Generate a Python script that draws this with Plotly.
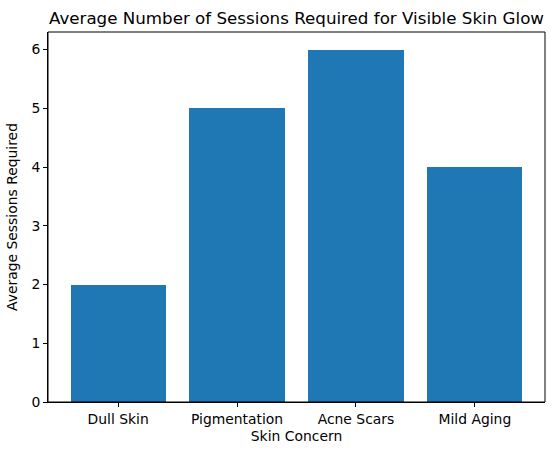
import plotly.graph_objects as go

# Skin concerns and the average number of sessions needed
concerns = ["Dull Skin", "Pigmentation", "Acne Scars", "Mild Aging"]
sessions = [2, 5, 6, 4]

font = "DejaVu Sans"

fig = go.Figure(
    go.Bar(
        x=concerns,
        y=sessions,
        width=0.8,
        marker=dict(color="#1f77b4", line=dict(width=0)),
    )
)

fig.update_layout(
    width=554,
    height=455,
    autosize=False,
    margin=dict(l=48, r=9, t=32, b=53, pad=0, autoexpand=False),
    paper_bgcolor="white",
    plot_bgcolor="white",
    font=dict(family=font, size=13.9, color="black"),
    showlegend=False,
    bargap=0,
    title=dict(
        text="Average Number of Sessions Required for Visible Skin Glow",
        x=0.5, xref="paper", xanchor="center",
        y=1 - 18 / 455, yref="container", yanchor="middle",
        font=dict(family=font, size=16.7, color="black"),
    ),
)

axis_style = dict(
    showline=True, linecolor="black", linewidth=1,
    ticks="outside", ticklen=4, tickwidth=1, tickcolor="black",
    showgrid=False, zeroline=False, automargin=False,
    tickfont=dict(family=font, size=13.9, color="black"),
)

fig.update_xaxes(
    range=[-0.59, 3.59],
    title=dict(text="Skin Concern", standoff=5, font=dict(family=font, size=13.9)),
    **axis_style,
)
fig.update_yaxes(
    range=[0, 6.3], dtick=1,
    title=dict(text="Average Sessions Required", standoff=10, font=dict(family=font, size=13.9)),
    **axis_style,
)

# full frame around the axes, like matplotlib spines
fig.add_shape(
    type="rect", xref="paper", yref="paper", x0=0, y0=0, x1=1, y1=1,
    line=dict(color="black", width=1), fillcolor="rgba(0,0,0,0)", layer="above",
)

# drop the browser's default page margin so the figure sits at the window corner
fig.write_html(
    "out.html",
    config={"displayModeBar": False},
    post_script="document.body.style.margin='0';",
)
